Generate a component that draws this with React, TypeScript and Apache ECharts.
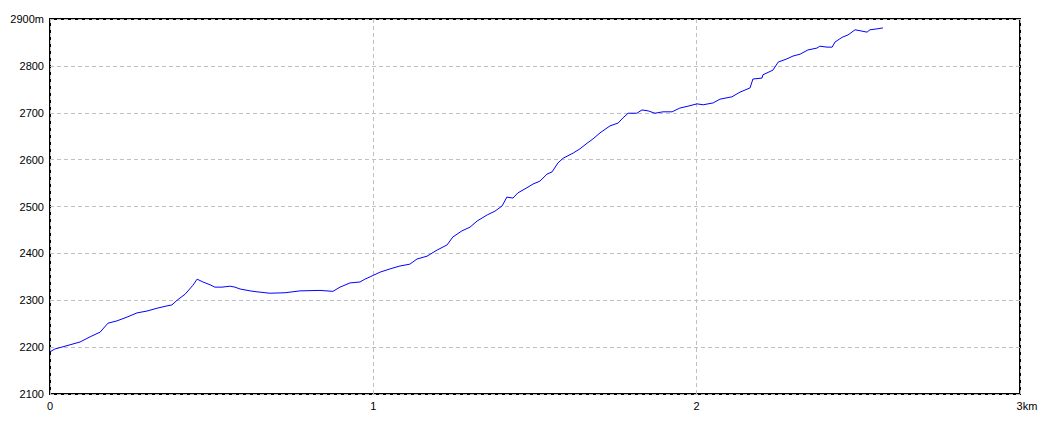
import React, { useEffect, useRef } from "react";
import * as echarts from "echarts";

const distanceKm = [
  0.0, 0.015, 0.031, 0.062, 0.093, 0.124, 0.155, 0.179, 0.207, 0.238, 0.269, 0.3, 0.331, 0.362, 0.377, 0.393,
  0.418, 0.442, 0.455, 0.473, 0.495, 0.51, 0.532, 0.557, 0.572, 0.588, 0.619, 0.64, 0.68, 0.727, 0.773, 0.835,
  0.875, 0.897, 0.928, 0.959, 0.974, 0.99, 1.021, 1.052, 1.082, 1.113, 1.135, 1.166, 1.197, 1.228, 1.246, 1.274,
  1.299, 1.321, 1.352, 1.376, 1.398, 1.413, 1.432, 1.447, 1.475, 1.494, 1.515, 1.537, 1.553, 1.571, 1.587, 1.618,
  1.639, 1.661, 1.679, 1.701, 1.732, 1.757, 1.772, 1.788, 1.815, 1.831, 1.85, 1.871, 1.896, 1.924, 1.948, 1.973,
  2.001, 2.02, 2.051, 2.072, 2.109, 2.134, 2.165, 2.174, 2.202, 2.205, 2.236, 2.252, 2.279, 2.298, 2.32, 2.344,
  2.372, 2.381, 2.403, 2.419, 2.428, 2.45, 2.468, 2.49, 2.505, 2.527, 2.536, 2.558, 2.576,
];
const elevationM = [
  2190, 2196, 2199, 2205, 2211, 2222, 2232, 2251, 2256, 2264, 2273, 2277, 2283, 2288, 2290, 2300,
  2313, 2332, 2345, 2339, 2333, 2328, 2328, 2330, 2328, 2324, 2320, 2318, 2315, 2316, 2320, 2321,
  2319, 2328, 2337, 2339, 2345, 2350, 2360, 2367, 2373, 2377, 2388, 2394, 2407, 2418, 2435, 2448,
  2456, 2469, 2482, 2490, 2501, 2520, 2518, 2529, 2540, 2548, 2554, 2569, 2574, 2593, 2603, 2614,
  2623, 2635, 2644, 2657, 2672, 2678, 2689, 2699, 2699, 2706, 2704, 2699, 2702, 2702, 2710, 2714,
  2719, 2717, 2721, 2729, 2734, 2744, 2753, 2772, 2774, 2781, 2791, 2808, 2815, 2821, 2825, 2834,
  2838, 2842, 2840, 2840, 2851, 2861, 2866, 2877, 2875, 2872, 2877, 2879, 2881,
];
const yMin = 2100;
const yMax = 2900;
const yStep = 100;
const xMin = 0;
const xMax = 3;
const xStep = 1;

export default function App() {
  const ref = useRef<HTMLDivElement>(null);
  useEffect(() => {
    if (!ref.current) return;
    const chart = echarts.init(ref.current, null, { renderer: "svg" });
    const data = distanceKm.map((d, i) => [d, elevationM[i]]);
    chart.setOption({
      animation: false,
      backgroundColor: "#fff",
      textStyle: { fontFamily: "Liberation Sans", color: "#000" },
      grid: {
        left: 50,
        right: 40,
        top: 19,
        bottom: 30,
        show: true,
        borderColor: "#000",
        borderWidth: 2,
        backgroundColor: "transparent",
      },
      xAxis: {
        type: "value",
        min: xMin,
        max: xMax,
        interval: xStep,
        axisLine: { show: false },
        axisTick: { show: false },
        splitLine: { show: true, lineStyle: { color: "#c0c0c0", type: [4, 3], width: 1 } },
        axisLabel: {
          color: "#000",
          fontSize: 11,
          margin: 6,
          formatter: (v: number) => (v === xMax ? "{k|" + v + "km}" : String(v)),
          rich: { k: { padding: [0, 0, 0, 14], fontSize: 11, color: "#000" } },
        },
      },
      yAxis: {
        type: "value",
        min: yMin,
        max: yMax,
        interval: yStep,
        axisLine: { show: false },
        axisTick: { show: false },
        splitLine: { show: true, lineStyle: { color: "#c0c0c0", type: [4, 3], width: 1 } },
        axisLabel: {
          color: "#000",
          fontSize: 11,
          margin: 6,
          formatter: (v: number) => (v === yMax ? v + "m" : String(v)),
        },
      },
      series: [
        {
          type: "line",
          data,
          showSymbol: false,
          symbol: "none",
          lineStyle: { color: "#0000ff", width: 1 },
        },
      ],
    });
    return () => chart.dispose();
  }, []);
  return (
    <div
      ref={ref}
      style={{ position: "absolute", left: 0, top: 0, width: 1060, height: 424 }}
    />
  );
}
